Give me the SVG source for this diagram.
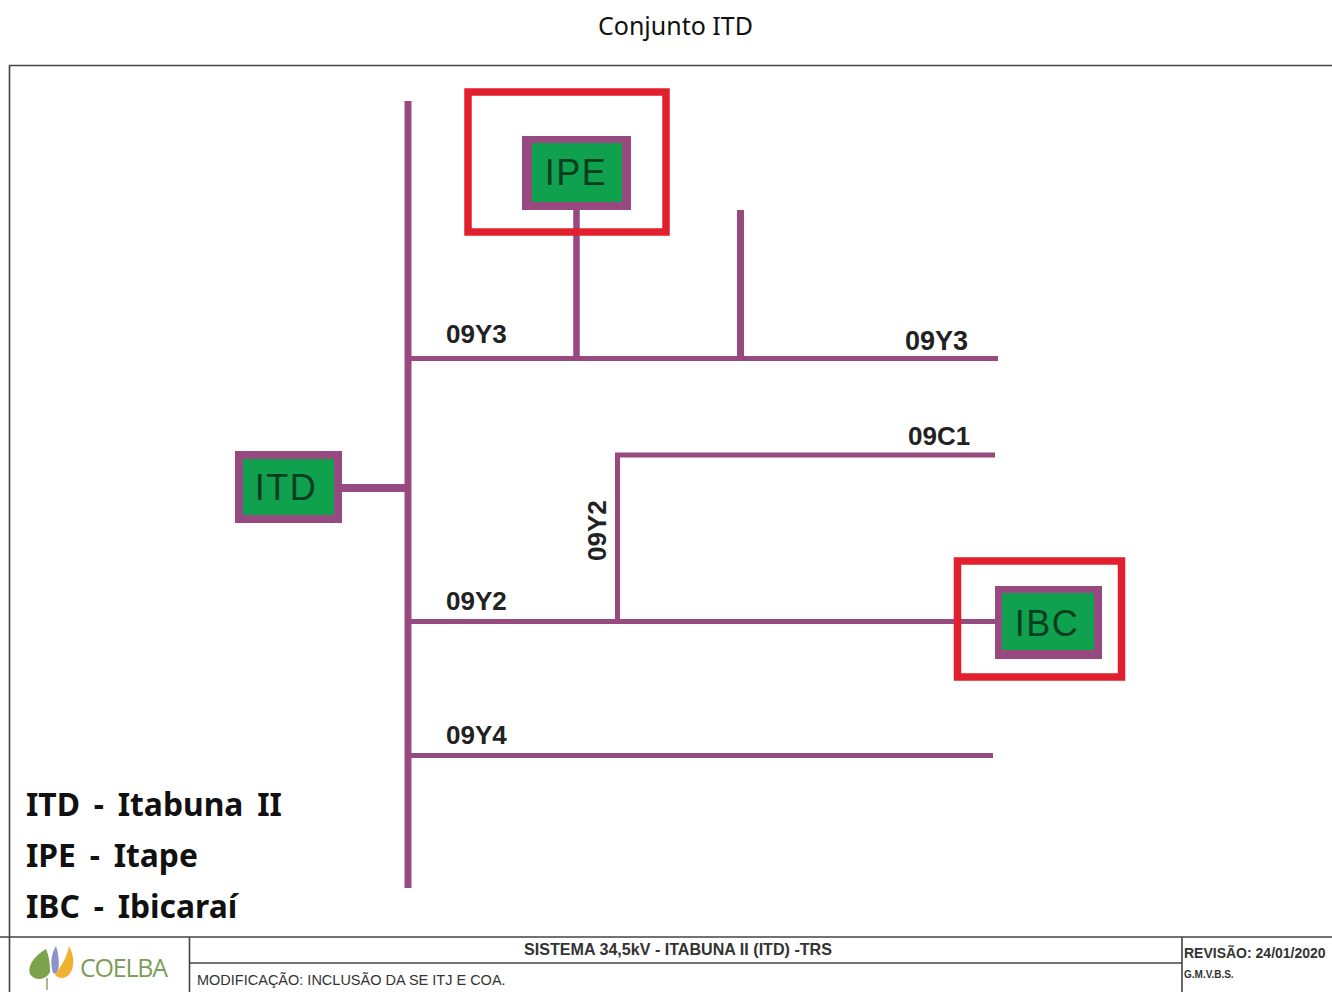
<svg xmlns="http://www.w3.org/2000/svg" width="1332" height="992" viewBox="0 0 1332 992">
<style>
.w{stroke:#964a80;fill:none;stroke-linecap:butt}
.f{stroke:#444;stroke-width:1.6;fill:none}
.b{fill:#964a80}
.g{fill:#0fa14e}
.r{fill:none;stroke:#e21f2d;stroke-width:7.5}
.n{font-family:"Liberation Sans",Arial,sans-serif;font-size:36px;fill:#0a3d20;text-anchor:middle;letter-spacing:1.5px}
.l{font-family:"Liberation Sans",Arial,sans-serif;font-size:26px;font-weight:bold;fill:#222}
.k{font-family:"Noto Sans","Open Sans",sans-serif;font-size:31.800px;font-weight:bold;fill:#111;word-spacing:5.500px}
.s{font-family:"Liberation Sans",Arial,sans-serif;fill:#333}
</style>
<rect width="1332" height="992" fill="#fff"/>
<text x="675.500" y="35" text-anchor="middle" font-family="Noto Sans,Open Sans,sans-serif" font-size="25" fill="#111">Conjunto ITD</text>
<g id="frame">
<path class="f" d="M1332 65.500H9.500V992M0 937H1332M189.500 937V992M189.500 963H1182M1182 937V992"/>
</g>
<g id="connectors">
<path class="w" stroke-width="7" d="M408 101V888"/>
<path class="w" stroke-width="8" d="M341 488H408"/>
<path class="w" stroke-width="5" d="M408 358.500H998"/>
<path class="w" stroke-width="6.500" d="M576.500 208V358"/>
<path class="w" stroke-width="7" d="M740.500 210V358"/>
<path class="w" stroke-width="5" d="M617.500 621V455H995"/>
<path class="w" stroke-width="5" d="M408 621.500H996"/>
<path class="w" stroke-width="5" d="M408 755.500H993"/>
</g>
<g id="node-ipe-highlight"><rect class="r" x="468" y="92" width="198" height="140"/></g>
<g id="node-ipe"><rect class="b" x="522" y="136" width="109" height="74"/><rect class="g" x="532" y="143" width="90" height="59"/><text class="n" x="576" y="185">IPE</text></g>
<g id="node-itd"><rect class="b" x="235" y="451" width="107" height="72"/><rect class="g" x="243" y="459" width="91" height="56"/><text class="n" x="286" y="500">ITD</text></g>
<g id="node-ibc-highlight"><rect class="r" x="957.500" y="561" width="164" height="116"/></g>
<g id="node-ibc"><rect class="b" x="995" y="586" width="107" height="73"/><rect class="g" x="1002" y="593" width="92" height="57"/><text class="n" x="1047" y="636">IBC</text></g>
<g id="labels">
<text class="l" x="446" y="343">09Y3</text>
<text class="l" x="905" y="350" style="font-size:27px">09Y3</text>
<text class="l" x="908" y="445">09C1</text>
<text class="l" x="446" y="610">09Y2</text>
<text class="l" x="446" y="744">09Y4</text>
<text class="l" transform="translate(606 561) rotate(-90)">09Y2</text>
</g>
<g id="legend">
<text class="k" x="26" y="816">ITD - Itabuna II</text>
<text class="k" x="26" y="867">IPE - Itape</text>
<text class="k" x="26" y="918">IBC - Ibicaraí</text>
</g>
<g id="title-block">
<path d="M46 949C34 956 27 966 30 974C35 982 46 980 50 972C50 963 49 956 46 949Z" fill="#7ba24d"/>
<path d="M56 946C51 954 50 964 53 973C59 977 61 962 56 946Z" fill="#8d93c9"/>
<path d="M69 946C67 958 61 966 55 975C62 982 72 976 73 965C74 958 72 952 69 946Z" fill="#f0b030"/>
<path d="M47 978V990" stroke="#a9bd8c" stroke-width="2" fill="none"/>
<text x="80" y="977" font-family="Open Sans,Noto Sans,sans-serif" font-size="25" fill="#7d9d5a" letter-spacing="-1.200">COELBA</text>
<text class="s" x="678" y="954.500" text-anchor="middle" font-size="16.100" font-weight="bold">SISTEMA 34,5kV - ITABUNA II (ITD) -TRS</text>
<text class="s" x="197" y="985" font-size="14.500">MODIFICAÇÃO: INCLUSÃO DA SE ITJ E COA.</text>
<text class="s" x="1184" y="958" font-size="14" font-weight="bold">REVISÃO: 24/01/2020</text>
<text class="s" x="1184" y="978" font-size="10" font-weight="bold">G.M.V.B.S.</text>
</g>
</svg>
